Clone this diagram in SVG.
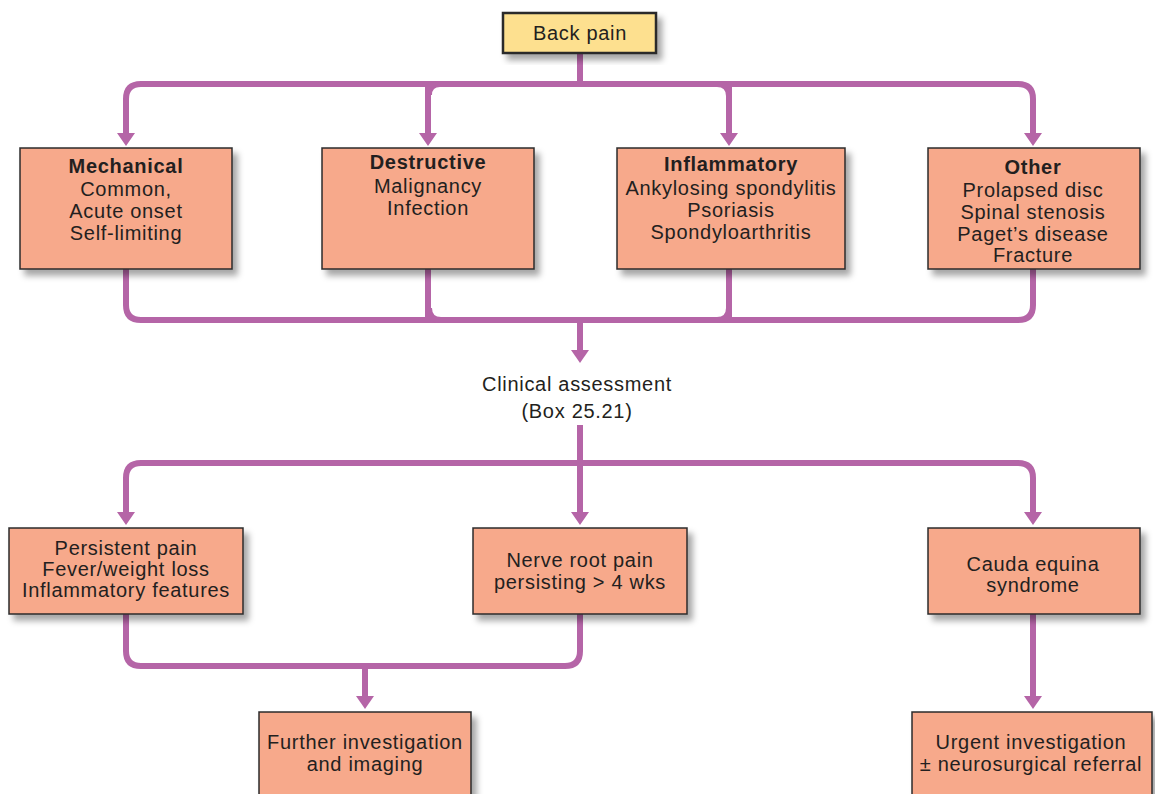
<svg xmlns="http://www.w3.org/2000/svg" width="1155" height="794" viewBox="0 0 1155 794">
<defs>
<filter id="sh" x="-10%" y="-10%" width="130%" height="140%">
<feDropShadow dx="5" dy="6" stdDeviation="3" flood-color="#000" flood-opacity="0.35"/>
</filter>
<style>
.c{fill:none;stroke:#b565a7;stroke-width:6}
.a{fill:#b565a7}
.b{fill:#f7a98b;stroke:#2b2b2b;stroke-width:1.5;filter:url(#sh)}
.y{fill:#fde08f;stroke:#2b2b2b;stroke-width:2.5;filter:url(#sh)}
text{font-family:"Liberation Sans",Arial,sans-serif;font-size:20px;letter-spacing:0.7px;fill:#231f20;text-anchor:middle}
.h{font-weight:bold}
</style>
</defs>
<g id="connectors">
<path class="c" d="M580,53 V84"/>
<path class="c" d="M126,133 V99 Q126,84 141,84 H1018 Q1033,84 1033,99 V133"/>
<path class="c" d="M428,84 V133 M440,84 Q429,84 429,95"/>
<path class="c" d="M729,84 V133 M717,84 Q729,84 729,96"/>
<path class="a" d="M117,133 H135 L126,146 Z M419,133 H437 L428,146 Z M720,133 H738 L729,146 Z M1024,133 H1042 L1033,146 Z"/>
<path class="c" d="M126,269 V305 Q126,320 141,320 H1018 Q1033,320 1033,305 V269"/>
<path class="c" d="M428,269 V320 M429,308 Q429,320 441,320"/>
<path class="c" d="M729,269 V320 M729,308 Q729,320 717,320"/>
<path class="c" d="M580,320 V350"/>
<path class="a" d="M571,350 H589 L580,363 Z"/>
<path class="c" d="M580,425 V463"/>
<path class="c" d="M126,512 V478 Q126,463 141,463 H1018 Q1033,463 1033,478 V512"/>
<path class="c" d="M580,463 V512"/>
<path class="a" d="M117,512 H135 L126,525 Z M571,512 H589 L580,525 Z M1024,512 H1042 L1033,525 Z"/>
<path class="c" d="M126,614 V651 Q126,666 141,666 H565 Q580,666 580,651 V614"/>
<path class="c" d="M365,666 V696"/>
<path class="a" d="M356,696 H374 L365,709 Z"/>
<path class="c" d="M1033,614 V696"/>
<path class="a" d="M1024,696 H1042 L1033,709 Z"/>
</g>
<g id="back-pain">
<rect class="y" x="503" y="13" width="153" height="40"/>
<text x="580" y="40">Back pain</text>
</g>
<g id="mechanical">
<rect class="b" x="20" y="148" width="212" height="121"/>
<text x="126" y="173" class="h">Mechanical</text>
<text x="126" y="196">Common,</text>
<text x="126" y="218">Acute onset</text>
<text x="126" y="240">Self-limiting</text>
</g>
<g id="destructive">
<rect class="b" x="322" y="148" width="212" height="121"/>
<text x="428" y="169" class="h">Destructive</text>
<text x="428" y="193">Malignancy</text>
<text x="428" y="215">Infection</text>
</g>
<g id="inflammatory">
<rect class="b" x="617" y="148" width="228" height="121"/>
<text x="731" y="171" class="h">Inflammatory</text>
<text x="731" y="195">Ankylosing spondylitis</text>
<text x="731" y="217">Psoriasis</text>
<text x="731" y="239">Spondyloarthritis</text>
</g>
<g id="other">
<rect class="b" x="928" y="148" width="212" height="121"/>
<text x="1033" y="174" class="h">Other</text>
<text x="1033" y="197">Prolapsed disc</text>
<text x="1033" y="219">Spinal stenosis</text>
<text x="1033" y="241">Paget’s disease</text>
<text x="1033" y="262">Fracture</text>
</g>
<g id="clinical-assessment">
<text x="577" y="391">Clinical assessment</text>
<text x="577" y="418">(Box 25.21)</text>
</g>
<g id="persistent">
<rect class="b" x="9" y="528" width="234" height="86"/>
<text x="126" y="555">Persistent pain</text>
<text x="126" y="576">Fever/weight loss</text>
<text x="126" y="597">Inflammatory features</text>
</g>
<g id="nerve-root">
<rect class="b" x="473" y="528" width="214" height="86"/>
<text x="580" y="567">Nerve root pain</text>
<text x="580" y="589">persisting &gt; 4 wks</text>
</g>
<g id="cauda-equina">
<rect class="b" x="928" y="528" width="212" height="86"/>
<text x="1033" y="571">Cauda equina</text>
<text x="1033" y="592">syndrome</text>
</g>
<g id="further">
<rect class="b" x="259" y="712" width="212" height="100"/>
<text x="365" y="749">Further investigation</text>
<text x="365" y="771">and imaging</text>
</g>
<g id="urgent">
<rect class="b" x="912" y="712" width="240" height="100"/>
<text x="1031" y="749">Urgent investigation</text>
<text x="1031" y="771">± neurosurgical referral</text>
</g>
</svg>
